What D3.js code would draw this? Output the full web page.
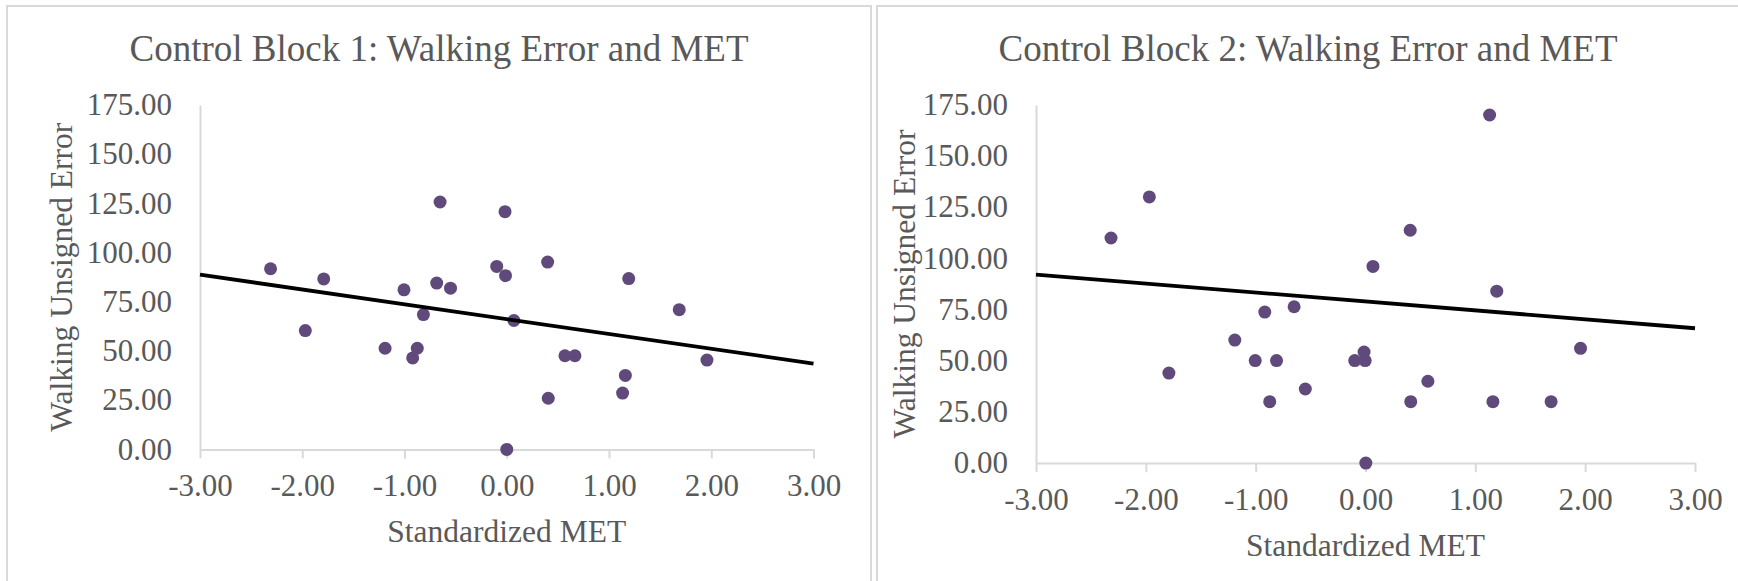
<!DOCTYPE html>
<html>
<head>
<meta charset="utf-8">
<script src="https://cdn.jsdelivr.net/npm/d3@7"></script>
<style>
  body { margin: 0; background: #fff; }
  text { font-family: "Liberation Serif", "Times New Roman", serif; fill: #595959; }
</style>
</head>
<body>
<script>
// Block 1 points (standardized MET, walking unsigned error)
const met1 = [-2.31, -1.97, -1.79, -1.19, -1.005, -0.92, -0.875, -0.815, -0.685, -0.652, -0.55,
              -0.098, -0.017, -0.012, 0.0, 0.07, 0.40, 0.406, 0.569, 0.667, 1.133, 1.16, 1.193, 1.687, 1.958];
const err1 = [91.8, 60.4, 86.6, 51.4, 81.1, 46.5, 51.4, 68.5, 84.5, 125.7, 81.9,
              93.0, 120.8, 88.3, 0, 65.5, 95.2, 26.0, 47.6, 47.6, 28.6, 37.6, 86.8, 71.0, 45.4];

// Block 2 points
const met2 = [-2.317, -1.968, -1.79, -1.19, -1.004, -0.917, -0.872, -0.81, -0.65, -0.548, -0.098,
              -0.013, -0.003, 0.003, 0.068, 0.407, 0.412, 0.568, 1.13, 1.16, 1.195, 1.69, 1.958];
const err2 = [110.0, 130.1, 44.0, 60.1, 50.1, 73.8, 30.0, 50.1, 76.4, 36.2, 50.1,
              54.3, 50.1, 0, 96.1, 113.8, 30.0, 40.0, 170.1, 30.0, 84.0, 30.0, 56.1];

// linear trendline, values at the ends of the x range
const trendX = [-3, 3];
const trend1 = [88.8, 43.6];
const trend2 = [92.1, 65.9];

const xTicks = [-3, -2, -1, 0, 1, 2, 3];
const yTicks = [0, 25, 50, 75, 100, 125, 150, 175];
const titles = ["Control Block 1: Walking Error and MET", "Control Block 2: Walking Error and MET"];
const xTitle = "Standardized MET";
const yTitle = "Walking Unsigned Error";

const W = 1738, H = 581;
const fmt = d => d.toFixed(2);   // keep plain hyphen for negatives

const svg = d3.select("body").append("svg")
  .attr("width", W)
  .attr("height", H);

const panels = [
  { box: 7,   left: 200,  right: 813.5, top: 105, bottom: 449.4, cx: 439,  yTx: 72,  xTy: 542,
    met: met1, err: err1, trend: trend1, title: titles[0] },
  { box: 877, left: 1036, right: 1695,  top: 105, bottom: 463.1, cx: 1308, yTx: 915, xTy: 556,
    met: met2, err: err2, trend: trend2, title: titles[1] }
];

panels.forEach(p => {
  // chart frame
  svg.append("rect")
    .attr("x", p.box).attr("y", 6)
    .attr("width", 864).attr("height", 620)
    .attr("fill", "#fff")
    .attr("stroke", "#d9d9d9")
    .attr("stroke-width", 2);

  const x = d3.scaleLinear().domain([-3, 3]).range([p.left, p.right]);
  const y = d3.scaleLinear().domain([0, 175]).range([p.bottom, p.top]);

  const yAxis = d3.axisLeft(y)
    .tickValues(yTicks)
    .tickFormat(fmt)
    .tickSize(0)
    .tickPadding(28);
  const gy = svg.append("g")
    .attr("transform", "translate(" + p.left + ",0)")
    .call(yAxis);

  const xAxis = d3.axisBottom(x)
    .tickValues(xTicks)
    .tickFormat(fmt)
    .tickSize(9)
    .tickSizeOuter(0)
    .tickPadding(16);
  const gx = svg.append("g")
    .attr("transform", "translate(0," + p.bottom + ")")
    .call(xAxis);

  [gx, gy].forEach(g => {
    g.select(".domain").attr("stroke", "#d9d9d9").attr("stroke-width", 2);
    g.selectAll(".tick line").attr("stroke", "#d9d9d9").attr("stroke-width", 2);
    g.selectAll(".tick text")
      .attr("fill", "#595959")
      .style("font-family", "Liberation Serif")
      .style("font-size", "31px");
  });
  gy.selectAll(".tick text").attr("dy", "0.31em");

  // points
  svg.append("g").selectAll("circle")
    .data(d3.zip(p.met, p.err))
    .enter()
    .append("circle")
    .attr("cx", d => x(d[0]))
    .attr("cy", d => y(d[1]))
    .attr("r", 6.5)
    .attr("fill", "#604a7b");

  // trendline
  svg.append("path")
    .datum(d3.zip(trendX, p.trend))
    .attr("fill", "none")
    .attr("stroke", "#000")
    .attr("stroke-width", 3.8)
    .attr("d", d3.line().x(d => x(d[0])).y(d => y(d[1])));

  svg.append("text")
    .attr("x", p.cx).attr("y", 61)
    .attr("text-anchor", "middle")
    .style("font-size", "37px")
    .text(p.title);

  svg.append("text")
    .attr("x", (p.left + p.right) / 2).attr("y", p.xTy)
    .attr("text-anchor", "middle")
    .style("font-size", "31.5px")
    .text(xTitle);

  svg.append("text")
    .attr("transform", "translate(" + p.yTx + "," + (p.top + p.bottom) / 2 + ") rotate(-90)")
    .attr("text-anchor", "middle")
    .style("font-size", "31.5px")
    .text(yTitle);
});
</script>
</body>
</html>
